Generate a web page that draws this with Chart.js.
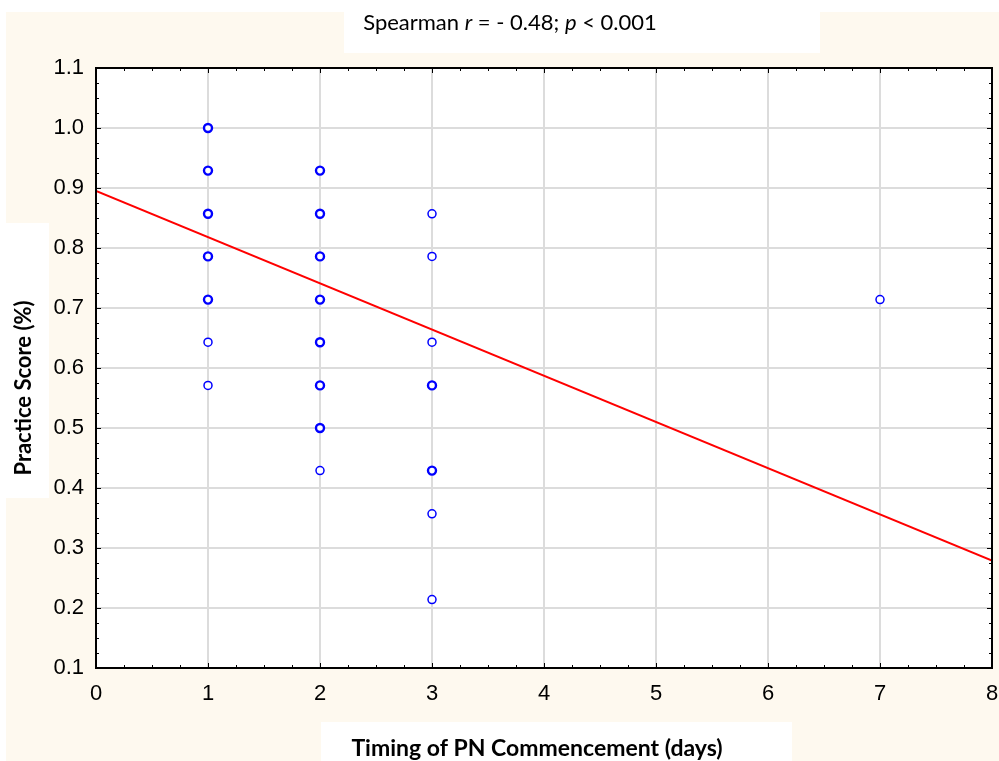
<!DOCTYPE html>
<html>
<head>
<meta charset="utf-8">
<script src="https://cdn.jsdelivr.net/npm/chart.js@4.4.1/dist/chart.umd.min.js"></script>
<style>
  html, body { margin: 0; padding: 0; background: #ffffff; }
  #wrap { width: 999px; height: 761px; position: relative; }
</style>
</head>
<body>
<div id="wrap"><canvas id="chart" width="999" height="761"></canvas></div>
<script>
// Practice score against day of PN start; scores are out of 14 items
const timingDays = [
  1, 1, 1, 1, 1, 1, 1,
  2, 2, 2, 2, 2, 2, 2, 2,
  3, 3, 3, 3, 3, 3, 3,
  7
];
const practiceScores = [
  1.000, 0.929, 0.857, 0.786, 0.714, 0.643, 0.571,
  0.929, 0.857, 0.786, 0.714, 0.643, 0.571, 0.500, 0.429,
  0.857, 0.786, 0.643, 0.571, 0.429, 0.357, 0.214,
  0.714
];
// how many patients share each plotted point
const pointCounts = [
  3, 3, 4, 3, 2, 1, 1,
  3, 4, 3, 4, 3, 2, 2, 1,
  1, 1, 1, 2, 2, 1, 1,
  1
];
// fitted trend line, ends at x = 0 and x = 8
const fitX = [0, 8];
const fitY = [0.895, 0.279];

const xTicks = [0, 1, 2, 3, 4, 5, 6, 7, 8];
const yTicks = [0.1, 0.2, 0.3, 0.4, 0.5, 0.6, 0.7, 0.8, 0.9, 1.0, 1.1];

const titleParts = [
  { text: "Spearman ", italic: false },
  { text: "r", italic: true },
  { text: " = - 0.48; ", italic: false },
  { text: "p", italic: true },
  { text: " < 0.001", italic: false }
];
const xTitle = "Timing of PN Commencement (days)";
const yTitle = "Practice Score (%)";

const CREAM = "#fef9ef";
const TICK_FAMILY = "Liberation Sans Narrow, Liberation Sans, Arial, sans-serif";
const TICK_SIZE = 22;

Chart.defaults.font.family = TICK_FAMILY;
Chart.defaults.font.size = TICK_SIZE;
Chart.defaults.color = "#000000";

// panels, frame, minor ticks and the text blocks around the plot
const decorations = {
  id: "decorations",
  beforeDraw(chart) {
    const c = chart.ctx;
    c.save();
    c.fillStyle = "#ffffff";
    c.fillRect(0, 0, chart.width, chart.height);
    c.fillStyle = CREAM;
    c.fillRect(6, 12, chart.width - 6, chart.height - 12);
    c.fillStyle = "#ffffff";
    c.fillRect(344, 12, 476, 41);   // title box
    c.fillRect(6, 223, 43, 275);    // y title box
    c.fillRect(321, 722, 471, 39);  // x title box
    const a = chart.chartArea;
    c.fillRect(a.left, a.top, a.right - a.left, a.bottom - a.top);
    c.restore();
  },
  afterDraw(chart) {
    const c = chart.ctx;
    const a = chart.chartArea;
    const xs = chart.scales.x;
    const ys = chart.scales.y;
    c.save();
    c.strokeStyle = "#000000";
    c.lineWidth = 1;
    c.beginPath();
    // minor + major ticks pointing inward on every side
    for (let v = 0; v <= 8.0001; v += 0.25) {
      const px = Math.round(xs.getPixelForValue(v)) + 0.5;
      const len = Math.abs(v - Math.round(v)) < 1e-6 ? 5 : 3;
      c.moveTo(px, a.bottom); c.lineTo(px, a.bottom - len);
      c.moveTo(px, a.top); c.lineTo(px, a.top + len);
    }
    for (let v = 0.1; v <= 1.1001; v += 0.025) {
      const py = Math.round(ys.getPixelForValue(v)) + 0.5;
      const len = Math.abs(v * 10 - Math.round(v * 10)) < 1e-6 ? 5 : 3;
      c.moveTo(a.left, py); c.lineTo(a.left + len, py);
      c.moveTo(a.right, py); c.lineTo(a.right - len, py);
    }
    c.stroke();
    c.lineWidth = 2;
    c.strokeRect(a.left, a.top, a.right - a.left, a.bottom - a.top);

    // heading with italic statistic symbols
    c.fillStyle = "#000000";
    c.textBaseline = "middle";
    const fontFor = (p) => (p.italic ? "italic " : "") + "22px Lato, sans-serif";
    let total = 0;
    titleParts.forEach((p) => { c.font = fontFor(p); total += c.measureText(p.text).width; });
    let tx = 510 - total / 2;
    titleParts.forEach((p) => {
      c.font = fontFor(p);
      c.textAlign = "left";
      c.fillText(p.text, tx, 23);
      tx += c.measureText(p.text).width;
    });

    c.font = "bold 23px Lato, sans-serif";
    c.textAlign = "center";
    c.fillText(xTitle, 537, 749);

    c.font = "bold 22px Lato, sans-serif";
    c.translate(24, 388);
    c.rotate(-Math.PI / 2);
    c.fillText(yTitle, 0, 0);
    c.restore();
  }
};

new Chart(document.getElementById("chart"), {
  type: "scatter",
  data: {
    datasets: [
      {
        label: "Observed",
        data: timingDays.map((d, i) => ({ x: d, y: practiceScores[i] })),
        pointStyle: "circle",
        pointRadius: 4,
        pointBorderColor: "#0000ff",
        pointBackgroundColor: "#ffffff",
        pointBorderWidth: pointCounts.map((n) => (n > 1 ? 2.4 : 1.5)),
        order: 1
      },
      {
        label: "Fit",
        type: "line",
        data: fitX.map((x, i) => ({ x: x, y: fitY[i] })),
        borderColor: "#ff0000",
        borderWidth: 2,
        pointRadius: 0,
        fill: false,
        order: 2
      }
    ]
  },
  options: {
    responsive: false,
    animation: false,
    layout: { padding: { top: 68, right: 7, left: 0, bottom: 0 } },
    plugins: {
      legend: { display: false },
      tooltip: { enabled: false }
    },
    scales: {
      x: {
        type: "linear",
        min: 0,
        max: 8,
        afterBuildTicks: (s) => { s.ticks = xTicks.map((v) => ({ value: v })); },
        afterFit: (s) => {
          s.height = 93;
          s.paddingLeft = 0;
          s.paddingRight = 0;
        },
        grid: { color: "#dcdcdc", lineWidth: 2, drawTicks: false },
        border: { display: false },
        ticks: {
          color: "#000000",
          font: { family: TICK_FAMILY, size: TICK_SIZE },
          padding: 13,
          maxRotation: 0
        }
      },
      y: {
        type: "linear",
        min: 0.1,
        max: 1.1,
        afterBuildTicks: (s) => { s.ticks = yTicks.map((v) => ({ value: v })); },
        afterFit: (s) => {
          s.width = 96;
          s.paddingTop = 0;
          s.paddingBottom = 0;
        },
        grid: { color: "#dcdcdc", lineWidth: 2, drawTicks: false },
        border: { display: false },
        ticks: {
          color: "#000000",
          font: { family: TICK_FAMILY, size: TICK_SIZE },
          padding: 12,
          callback: (v) => Number(v).toFixed(1)
        }
      }
    }
  },
  plugins: [decorations]
});
</script>
</body>
</html>
